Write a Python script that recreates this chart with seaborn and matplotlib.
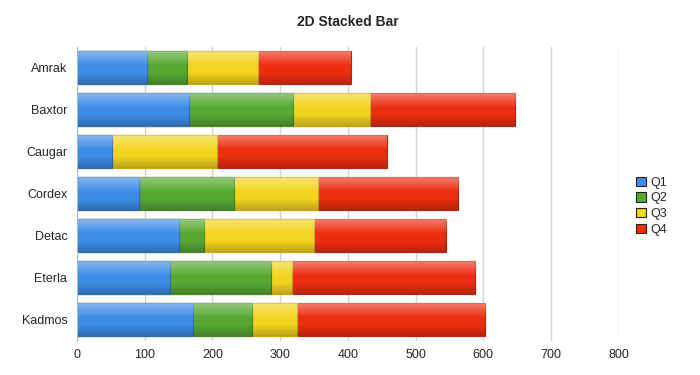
import numpy as np
import pandas as pd
import matplotlib
matplotlib.use("Agg")
import matplotlib.pyplot as plt
import seaborn as sns

# values
companies = ["Amrak", "Baxtor", "Caugar", "Cordex", "Detac", "Eterla", "Kadmos"]
quarters = ["Q1", "Q2", "Q3", "Q4"]
q1 = [104, 166, 51, 91, 150, 137, 172]
q2 = [59, 153, 0, 141, 38, 150, 87]
q3 = [104, 113, 156, 124, 162, 31, 66]
q4 = [137, 215, 250, 207, 195, 270, 278]
x_ticks = [0, 100, 200, 300, 400, 500, 600, 700, 800]

colors = {"Q1": "#3d8ce6", "Q2": "#56a832", "Q3": "#f3d421", "Q4": "#ec2e10"}
edges = {"Q1": "#2f6fb8", "Q2": "#44862a", "Q3": "#c4a818", "Q4": "#b6240c"}

df = pd.DataFrame({"company": companies, "Q1": q1, "Q2": q2, "Q3": q3, "Q4": q4})
# cumulative totals, drawn from the longest down so each segment shows
df["c1"] = df["Q1"]
df["c2"] = df["c1"] + df["Q2"]
df["c3"] = df["c2"] + df["Q3"]
df["c4"] = df["c3"] + df["Q4"]

sns.set_style("white")
plt.rcParams["font.family"] = ["Liberation Sans", "DejaVu Sans"]

fig = plt.figure(figsize=(7, 3.75), dpi=100)
ax = fig.add_axes([0.110, 0.091, 0.774, 0.784])

for q, col in zip(reversed(quarters), ["c4", "c3", "c2", "c1"]):
    sns.barplot(data=df, x=col, y="company", order=companies, orient="h",
                color=colors[q], edgecolor=edges[q], linewidth=0.8,
                width=0.78, saturation=1, ax=ax)

ax.set_xlim(0, 800)
ax.set_ylim(6.5, -0.5)

# glossy shading over each full bar (the total bars are the first patches)
s = np.linspace(0, 1, 64)
light = np.zeros((64, 1, 4))
light[:, 0, :3] = 1.0
light[:, 0, 3] = np.clip(0.38 * (1 - s / 0.45), 0, None)
dark = np.zeros((64, 1, 4))
dark[:, 0, 3] = np.clip(0.22 * (s - 0.65) / 0.35, 0, None)
for patch in list(ax.patches)[:len(companies)]:
    x0, y0 = patch.get_x(), patch.get_y()
    w, h = patch.get_width(), patch.get_height()
    for img in (light, dark):
        im = ax.imshow(img, extent=[x0, x0 + w, y0 + h, y0], aspect="auto",
                       interpolation="bilinear", zorder=3)
        im.set_clip_path(patch)
ax.set_xlim(0, 800)
ax.set_ylim(6.5, -0.5)

ax.set_xticks(x_ticks)
ax.set_xlabel("")
ax.set_ylabel("")
ax.grid(axis="x", color="#d4d4d4", linewidth=1)
ax.set_axisbelow(True)
for side in ["top", "right", "bottom"]:
    ax.spines[side].set_visible(False)
ax.spines["left"].set_color("#a9b9cc")
ax.spines["left"].set_zorder(4)
ax.tick_params(axis="y", length=4, color="#a9b9cc", labelsize=9, pad=3)
ax.tick_params(axis="x", length=0, labelsize=9, pad=6)

fig.text(0.497, 0.94, "2D Stacked Bar", ha="center", va="center",
         fontsize=10, fontweight="bold")

handles = [plt.Rectangle((0, 0), 1, 1, facecolor=colors[q], edgecolor="#222222",
                         linewidth=0.8) for q in quarters]
fig.legend(handles, quarters, loc="center left", bbox_to_anchor=(0.9, 0.45),
           frameon=False, fontsize=9, handlelength=0.75, handleheight=0.75,
           handletextpad=0.4, labelspacing=0.3, borderpad=0)

fig.savefig("out.png", dpi=100)
plt.close(fig)
